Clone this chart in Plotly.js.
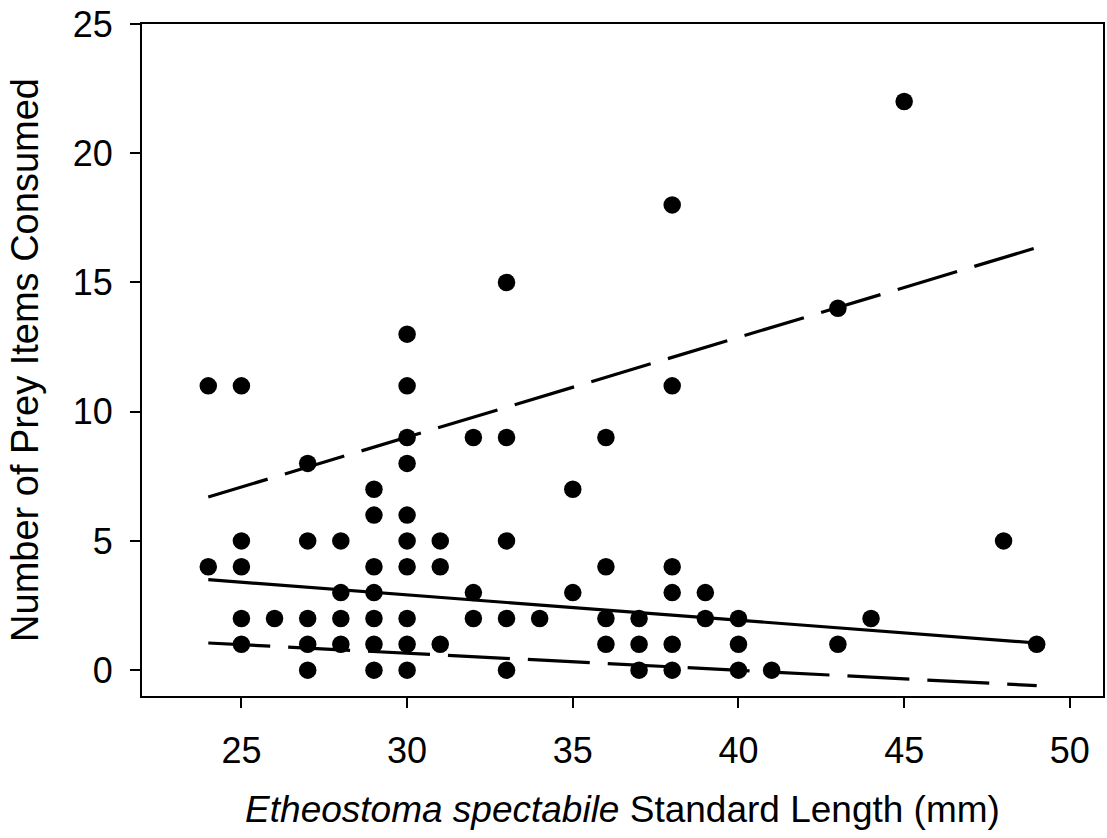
<!DOCTYPE html>
<html>
<head>
<meta charset="utf-8">
<script src="https://cdn.plot.ly/plotly-3.0.1.min.js"></script>
<style>html,body{margin:0;padding:0;background:#fff;}#chart{width:1107px;height:838px;}</style>
</head>
<body>
<div id="chart"></div>
<script>
// Observed fish: standard length (mm) and number of prey items consumed
const lengthMM = [
  24, 24,
  25, 25, 25, 25, 25,
  26,
  27, 27, 27, 27, 27,
  28, 28, 28, 28,
  29, 29, 29, 29, 29, 29, 29,
  30, 30, 30, 30, 30, 30, 30, 30, 30, 30,
  31, 31, 31,
  32, 32, 32,
  33, 33, 33, 33, 33,
  34,
  35, 35,
  36, 36, 36, 36,
  37, 37, 37,
  38, 38, 38, 38, 38, 38,
  39, 39,
  40, 40, 40,
  41,
  43, 43,
  44,
  45,
  48,
  49
];
const preyCount = [
  11, 4,
  11, 5, 4, 2, 1,
  2,
  8, 5, 2, 1, 0,
  5, 3, 2, 1,
  7, 6, 4, 3, 2, 1, 0,
  13, 11, 9, 8, 6, 5, 4, 2, 1, 0,
  5, 4, 1,
  9, 3, 2,
  15, 9, 5, 2, 0,
  2,
  7, 3,
  9, 4, 2, 1,
  2, 1, 0,
  18, 11, 4, 3, 1, 0,
  3, 2,
  2, 1, 0,
  0,
  14, 1,
  2,
  22,
  5,
  1
];
// Fitted lines (endpoints)
const fitX = [24, 49];
const fitMedian = [3.5, 1.05];
const fitUpper = [6.7, 16.35];
const fitLower = [1.05, -0.6];

const FONT = "Liberation Sans, Arial, Helvetica, sans-serif";

const traces = [
  {x: fitX, y: fitUpper, mode: 'lines', type: 'scatter',
   line: {color: '#000', width: 3.2, dash: '62px,18px'}, hoverinfo: 'skip'},
  {x: fitX, y: fitLower, mode: 'lines', type: 'scatter',
   line: {color: '#000', width: 3.2, dash: '62px,18px'}, hoverinfo: 'skip'},
  {x: fitX, y: fitMedian, mode: 'lines', type: 'scatter',
   line: {color: '#000', width: 3.2}, hoverinfo: 'skip'},
  {x: lengthMM, y: preyCount, mode: 'markers', type: 'scatter',
   marker: {color: '#000', size: 17.5, line: {width: 0}}}
];

const layout = {
  width: 1107, height: 838,
  margin: {l: 142, r: 4, t: 24, b: 142, pad: 0},
  paper_bgcolor: '#fff', plot_bgcolor: '#fff',
  showlegend: false,
  font: {family: FONT, size: 36, color: '#000'},
  xaxis: {
    range: [22, 51], tick0: 25, dtick: 5, tickmode: 'linear',
    showgrid: false, zeroline: false,
    showline: true, linecolor: '#000', linewidth: 2, mirror: true,
    ticks: 'outside', ticklen: 10, tickwidth: 2, tickcolor: '#000',
    ticklabelstandoff: 12,
    tickfont: {family: FONT, size: 36, color: '#000'},
    title: {text: '<i>Etheostoma spectabile</i> Standard Length (mm)',
            font: {family: FONT, size: 37, color: '#000'}, standoff: 26}
  },
  yaxis: {
    range: [-1, 25], tick0: 0, dtick: 5, tickmode: 'linear',
    showgrid: false, zeroline: false,
    showline: true, linecolor: '#000', linewidth: 2, mirror: true,
    ticks: 'outside', ticklen: 10, tickwidth: 2, tickcolor: '#000',
    ticklabelstandoff: 10,
    tickfont: {family: FONT, size: 36, color: '#000'},
    title: {text: 'Number of Prey Items Consumed',
            font: {family: FONT, size: 38, color: '#000'}, standoff: 22}
  }
};

Plotly.newPlot('chart', traces, layout, {displayModeBar: false, staticPlot: true});
</script>
</body>
</html>
